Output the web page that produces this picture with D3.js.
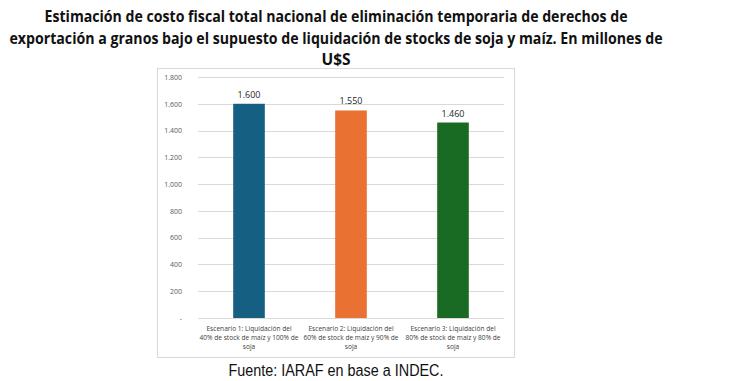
<!DOCTYPE html>
<html>
<head>
<meta charset="utf-8">
<script src="https://cdn.jsdelivr.net/npm/d3@7"></script>
<style>
  body { margin: 0; background: #fff; }
  svg { display: block; }
</style>
</head>
<body>
<div id="container"></div>
<script>
var width = 730,
    height = 381;

// chart data
var categories = ["Escenario 1", "Escenario 2", "Escenario 3"];
var categoryLabels = [
    ["Escenario 1: Liquidación del", "40% de stock de maíz y 100% de", "soja"],
    ["Escenario 2: Liquidación del", "60% de stock de maíz y 90% de", "soja"],
    ["Escenario 3: Liquidación del", "80% de stock de maíz y 80% de", "soja"]
];
var values = [1600, 1550, 1460];
var barColors = ["#156082", "#E97132", "#196B24"];
var yTicks = [0, 200, 400, 600, 800, 1000, 1200, 1400, 1600, 1800];
var titleLines = [
    "Estimación de costo fiscal total nacional de eliminación temporaria de derechos de",
    "exportación a granos bajo el supuesto de liquidación de stocks de soja y maíz. En millones de",
    "U$S"
];
var source = "Fuente: IARAF en base a INDEC.";

var locale = d3.formatLocale({ decimal: ",", thousands: ".", grouping: [3], currency: ["$", ""] });
var fmt = locale.format(",.0f");
function tickFmt(d) { return d === 0 ? "-" : fmt(d); }

var svg = d3.select("#container").append("svg")
    .attr("width", width)
    .attr("height", height);

var narrow = "'Liberation Sans Narrow', 'Open Sans', sans-serif";

// title
var titleWidths = [583, 653, null];
var titleY = [22, 44, 65];
titleLines.forEach(function (t, i) {
    var tx = svg.append("text")
        .attr("x", 336)
        .attr("y", titleY[i])
        .attr("text-anchor", "middle")
        .style("font-family", narrow)
        .style("font-weight", "bold")
        .style("font-size", "15.5px")
        .style("fill", "#111")
        .text(t);
    if (titleWidths[i]) {
        tx.attr("textLength", titleWidths[i]).attr("lengthAdjust", "spacingAndGlyphs");
    }
});

// chart frame
svg.append("rect")
    .attr("x", 157.5)
    .attr("y", 68.5)
    .attr("width", 357)
    .attr("height", 289)
    .attr("fill", "#fff")
    .attr("stroke", "#d9d9d9")
    .attr("stroke-width", 1);

var margin = { left: 198, right: 504, top: 77, bottom: 318 };

var x = d3.scaleBand()
    .domain(categories)
    .range([margin.left, margin.right])
    .paddingInner(0.69)
    .paddingOuter(0.345);

var y = d3.scaleLinear()
    .domain([0, 1800])
    .range([margin.bottom, margin.top]);

// gridlines
svg.append("g")
    .selectAll("line")
    .data(yTicks)
    .join("line")
    .attr("x1", margin.left)
    .attr("x2", margin.right)
    .attr("y1", function (d) { return Math.round(y(d)) + 0.5; })
    .attr("y2", function (d) { return Math.round(y(d)) + 0.5; })
    .attr("stroke", "#d9d9d9")
    .attr("stroke-width", 1);

// y axis labels
var yAxis = d3.axisLeft(y)
    .tickValues(yTicks)
    .tickFormat(tickFmt)
    .tickSize(0)
    .tickPadding(0);

var gy = svg.append("g")
    .attr("transform", "translate(182,0)")
    .call(yAxis);
gy.select(".domain").remove();
gy.selectAll("text")
    .style("font-family", narrow)
    .style("font-size", "7px")
    .style("fill", "#595959");

// bars
svg.append("g")
    .selectAll("rect")
    .data(values)
    .join("rect")
    .attr("x", function (d, i) { return x(categories[i]); })
    .attr("y", function (d) { return y(d); })
    .attr("width", x.bandwidth())
    .attr("height", function (d) { return y(0) - y(d); })
    .attr("fill", function (d, i) { return barColors[i]; });

// value labels
svg.append("g")
    .selectAll("text")
    .data(values)
    .join("text")
    .attr("x", function (d, i) { return x(categories[i]) + x.bandwidth() / 2; })
    .attr("y", function (d) { return y(d) - 6; })
    .attr("text-anchor", "middle")
    .style("font-family", narrow)
    .style("font-size", "9px")
    .style("fill", "#262626")
    .text(function (d) { return fmt(d); });

// category labels
var xAxis = d3.axisBottom(x).tickSize(0).tickFormat("");
var gx = svg.append("g")
    .attr("transform", "translate(0," + margin.bottom + ")")
    .call(xAxis);
gx.select(".domain").remove();
gx.selectAll(".tick").each(function (d, i) {
    var t = d3.select(this).append("text")
        .attr("text-anchor", "middle")
        .style("font-family", narrow)
        .style("font-size", "6.6px")
        .style("fill", "#404040");
    categoryLabels[i].forEach(function (line, k) {
        t.append("tspan")
            .attr("x", 0)
            .attr("y", 13 + k * 9)
            .text(line);
    });
});

// source
svg.append("text")
    .attr("x", 336)
    .attr("y", 376)
    .attr("text-anchor", "middle")
    .style("font-family", "'Liberation Sans', 'Open Sans', sans-serif")
    .style("font-size", "16px")
    .style("fill", "#111")
    .attr("textLength", 215)
    .attr("lengthAdjust", "spacingAndGlyphs")
    .text(source);
</script>
</body>
</html>
